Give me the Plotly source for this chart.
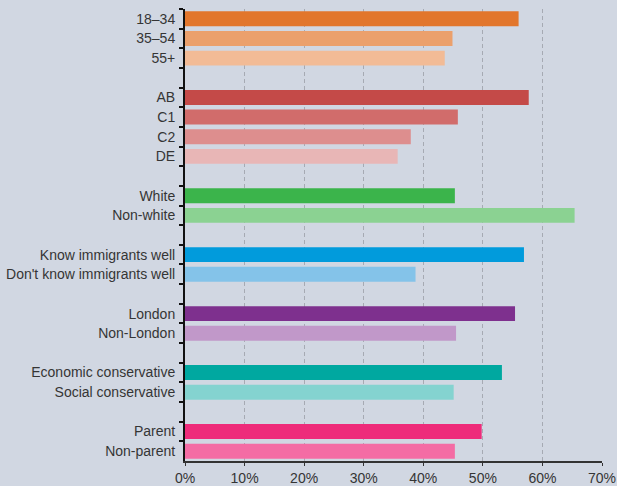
from plotly import graph_objects as go

# groups of respondents, blank rows separate the groups
groups = [
    ["18\u201334", "35\u201354", "55+"],
    ["AB", "C1", "C2", "DE"],
    ["White", "Non-white"],
    ["Know immigrants well", "Don't know immigrants well"],
    ["London", "Non-London"],
    ["Economic conservative", "Social conservative"],
    ["Parent", "Non-parent"],
]
values = [
    [56.0, 44.9, 43.6],
    [57.7, 45.8, 37.9, 35.7],
    [45.3, 65.4],
    [56.9, 38.7],
    [55.4, 45.5],
    [53.2, 45.1],
    [49.8, 45.3],
]
colors = [
    ["#e2762c", "#eba06c", "#f2bb96"],
    ["#c44a48", "#d16c6b", "#dd8e8e", "#e8b6b6"],
    ["#3bb44b", "#8bd292"],
    ["#019bdc", "#84c3e9"],
    ["#7e308e", "#c198c9"],
    ["#00a8a0", "#84d3d0"],
    ["#ee2b7a", "#f46ca4"],
]
x_ticks = [0, 10, 20, 30, 40, 50, 60, 70]

labels, xs, cols = [], [], []
for i, (g, v, c) in enumerate(zip(groups, values, colors)):
    if i:
        labels.append(" " * i)  # spacer row
        xs.append(None)
        cols.append("rgba(0,0,0,0)")
    labels += g
    xs += v
    cols += c

bg = "#d1d7e2"
fig = go.Figure(
    data=[
        go.Bar(
            x=xs,
            y=labels,
            orientation="h",
            marker=dict(color=cols, line_width=0),
            hoverinfo="skip",
        )
    ],
    layout=dict(
        width=617,
        height=486,
        margin=dict(l=185, r=15, t=9, b=25, autoexpand=False),
        paper_bgcolor=bg,
        plot_bgcolor=bg,
        bargap=0.24,
        showlegend=False,
        font=dict(family="Liberation Sans", size=14, color="#353535"),
        xaxis=dict(
            range=[0, 70],
            tickvals=x_ticks,
            ticktext=[f"{t}%" for t in x_ticks],
            showgrid=True,
            gridcolor="#a6aab3",
            gridwidth=1,
            griddash="4px,3px",
            zeroline=False,
            showline=True,
            linecolor="#333333",
            linewidth=2,
            ticks="outside",
            ticklen=3,
            tickcolor="#333333",
            tickfont=dict(size=14),
            automargin=False,
            fixedrange=True,
        ),
        yaxis=dict(
            type="category",
            categoryorder="array",
            categoryarray=labels,
            autorange="reversed",
            tickson="boundaries",
            ticks="outside",
            ticklen=4,
            tickwidth=1.5,
            tickcolor="#111111",
            showline=True,
            linecolor="#111111",
            linewidth=2,
            showgrid=False,
            ticklabelstandoff=5,
            automargin=False,
            fixedrange=True,
        ),
    ),
)

# drop the browser's default body margin so the figure sits at the page corner
fig.write_html(
    "out.html",
    config={"displayModeBar": False},
    post_script="document.body.style.margin = '0';",
)
